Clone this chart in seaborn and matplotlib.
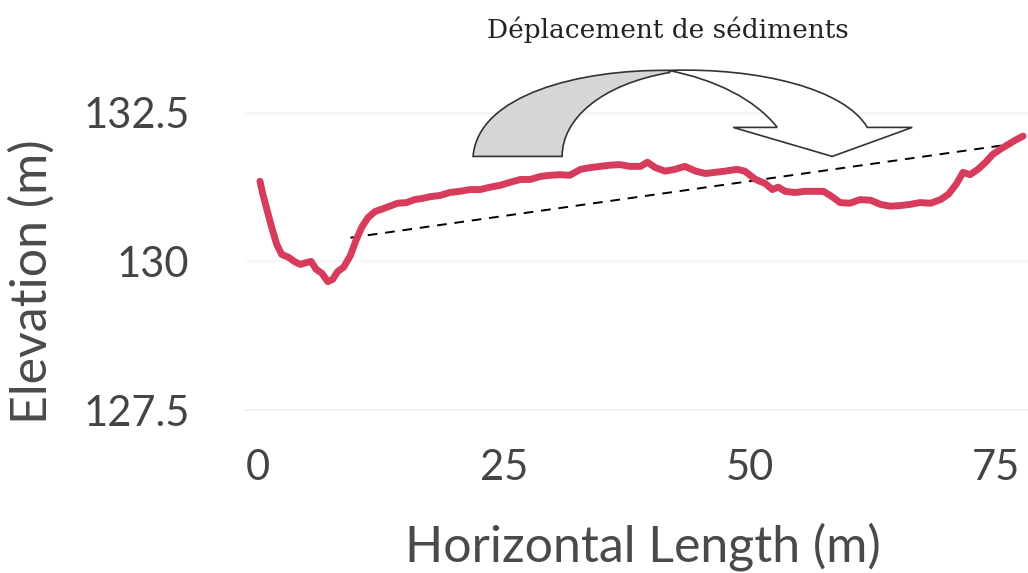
import numpy as np
import pandas as pd
import matplotlib
matplotlib.use("Agg")
import matplotlib.pyplot as plt
from matplotlib.path import Path
from matplotlib.patches import PathPatch
import seaborn as sns

# --- data ---
dist_m = [0.2, 0.5, 0.9, 1.4, 1.9, 2.4, 3.1, 3.7, 4.3, 4.9, 5.4, 5.9, 6.5, 7.1, 7.6,
          8.1, 8.7, 9.4, 10.0, 10.6, 11.2, 11.9, 12.6, 13.4, 14.2, 15.1, 15.9, 16.7,
          17.5, 18.5, 19.5, 20.5, 21.6, 22.6, 23.6, 24.6, 25.6, 26.7, 27.7, 28.7,
          29.7, 30.7, 31.7, 32.8, 33.8, 34.8, 35.8, 36.8, 37.8, 38.9, 39.6, 40.4,
          41.4, 42.4, 43.4, 44.5, 45.5, 46.5, 47.5, 48.7, 49.5, 50.6, 51.6, 52.3,
          52.9, 53.6, 54.6, 55.6, 56.7, 57.5, 58.2, 59.2, 60.2, 61.2, 62.3, 63.3,
          64.3, 65.3, 66.3, 67.3, 68.4, 69.4, 70.2, 71.0, 71.7, 72.4, 73.2, 74.0,
          74.7, 75.5, 76.3, 77.0, 77.8]
elev_m = [131.35, 131.13, 130.88, 130.57, 130.29, 130.12, 130.07, 130.00, 129.95,
          129.98, 130.00, 129.87, 129.80, 129.66, 129.70, 129.83, 129.90, 130.10,
          130.37, 130.59, 130.74, 130.84, 130.88, 130.93, 130.98, 130.99, 131.04,
          131.06, 131.09, 131.11, 131.16, 131.18, 131.21, 131.21, 131.25, 131.28,
          131.33, 131.38, 131.38, 131.43, 131.45, 131.46, 131.45, 131.55, 131.58,
          131.60, 131.62, 131.63, 131.60, 131.60, 131.67, 131.58, 131.52, 131.55,
          131.60, 131.52, 131.48, 131.50, 131.52, 131.55, 131.52, 131.38, 131.31,
          131.21, 131.25, 131.18, 131.16, 131.18, 131.18, 131.18, 131.11, 130.99,
          130.98, 131.04, 131.03, 130.96, 130.93, 130.94, 130.96, 130.99, 130.98,
          131.04, 131.13, 131.30, 131.50, 131.46, 131.55, 131.67, 131.80, 131.89,
          131.97, 132.04, 132.11]

trend_x = [9.4, 76.0]
trend_y = [130.40, 131.96]

x_ticks = [0, 25, 50, 75]
y_ticks = [127.5, 130, 132.5]
y_ticklabels = ["127.5", "130", "132.5"]

title_txt = "Déplacement de sédiments"

df = pd.DataFrame({"dist": dist_m, "elev": elev_m})

sns.set_style("white")
plt.rcParams["font.family"] = ["Lato", "DejaVu Sans"]

fig = plt.figure(figsize=(10.28, 5.73), dpi=100)
ax = fig.add_axes([245 / 1028, 163 / 573, 783 / 1028, 410 / 573])

ax.set_xlim(-1.32, 78.3)
ax.set_ylim(127.5, 134.4)

# very faint grid
for yv in y_ticks:
    ax.axhline(yv, color="#f6f6f6", lw=1.5, zorder=0)

ax.plot(trend_x, trend_y, color="black", lw=1.4, ls=(0, (5, 4)), zorder=2)
sns.lineplot(data=df, x="dist", y="elev", ax=ax, color="#d83c5c", lw=5,
             estimator=None, sort=False, zorder=3)


# curved arrow, shape in image pixel positions -> data units
def px(xp, yp):
    return ((xp - 258) / 9.83, 130 + (262 - yp) / 59.4)


C, L, M = Path.CURVE4, Path.LINETO, Path.MOVETO
back_pts = [px(473, 157), px(478, 95), px(580, 70), px(668, 71),
            px(670, 73), px(600, 85), px(562, 120), px(562, 157), px(473, 157)]
back_codes = [M, C, C, C, L, C, C, C, Path.CLOSEPOLY]
ax.add_patch(PathPatch(Path(back_pts, back_codes), facecolor="#d6d6d6",
                       edgecolor="#333333", lw=1.2, zorder=4))

front_pts = [px(668, 71), px(760, 68), px(845, 90), px(867, 128),
             px(912, 128), px(832, 157), px(733, 128), px(777, 128),
             px(755, 100), px(715, 80), px(668, 71), px(668, 71)]
front_codes = [M, C, C, C, L, L, L, L, C, C, C, Path.CLOSEPOLY]
ax.add_patch(PathPatch(Path(front_pts, front_codes), facecolor="white",
                       edgecolor="#333333", lw=1.2, zorder=4))

ax.set_xticks(x_ticks)
ax.set_xticklabels([str(v) for v in x_ticks])
ax.set_yticks(y_ticks)
ax.set_yticklabels(y_ticklabels)
ax.tick_params(axis="x", length=22, width=1.2, color="#f0f0f0", pad=6,
               labelsize=30, labelcolor="#444444")
ax.tick_params(axis="y", length=0, pad=40, labelsize=30, labelcolor="#444444")

for s in ["top", "right", "left"]:
    ax.spines[s].set_visible(False)
ax.spines["bottom"].set_color("#f0f0f0")
ax.spines["bottom"].set_linewidth(1.5)

ax.set_xlabel("Horizontal Length (m)", fontsize=36, color="#4a4a4a", va="center")
ax.set_ylabel("Elevation (m)", fontsize=36, color="#4a4a4a", va="center")
ax.xaxis.set_label_coords(0.508, -0.334)
ax.yaxis.set_label_coords(-0.272, 0.312)

fig.text(668 / 1028, 1 - 30 / 573, title_txt, ha="center", va="center",
         fontsize=19, family="DejaVu Serif", color="#222222")

fig.savefig("out.png", dpi=100)
